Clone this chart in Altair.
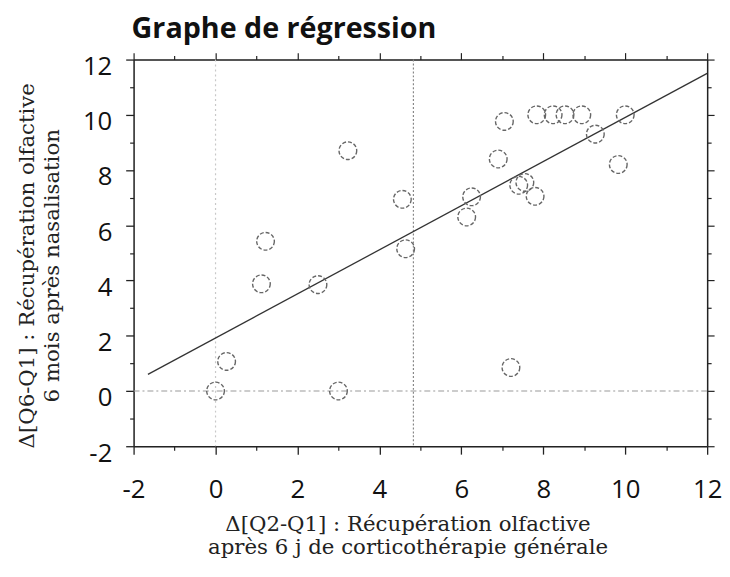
import altair as alt
import pandas as pd

# data
pts_x = [0.0, 0.27, 1.12, 1.22, 2.5, 3.0, 3.23, 4.56, 4.64, 6.13, 6.25, 6.9, 7.05,
         7.21, 7.4, 7.55, 7.8, 7.84, 8.24, 8.53, 8.94, 10.0, 9.27, 9.83]
pts_y = [0.0, 1.07, 3.88, 5.42, 3.85, 0.0, 8.7, 6.94, 5.15, 6.3, 7.03, 8.4, 9.76,
         0.85, 7.45, 7.55, 7.05, 10.0, 10.0, 10.0, 10.0, 10.0, 9.3, 8.2]
fit_x = [-1.65, 12.0]
fit_y = [0.6, 11.5]
vline_faint = [0.0]
vline_mean = [4.83]
hline_zero = [0.0]
major_ticks = [-2, 0, 2, 4, 6, 8, 10, 12]
minor_ticks = [-1, 1, 3, 5, 7, 9, 11]

title_txt = ["Graphe de régression"]
x_title = ["Δ[Q2-Q1] : Récupération  olfactive", "après 6 j de corticothérapie générale"]
y_title = ["Δ[Q6-Q1] : Récupération olfactive", "6 mois après nasalisation"]

pts = pd.DataFrame({"x": pts_x, "y": pts_y})
fit = pd.DataFrame({"x": fit_x, "y": fit_y})

xs = alt.Scale(domain=[-2, 12], nice=False, zero=False)
ys = alt.Scale(domain=[-2, 12], nice=False, zero=False)

LBL = "Open Sans"
SERIF = "DejaVu Serif"

x_main = alt.Axis(orient="bottom", values=major_ticks, tickSize=8, labelPadding=44,
                  labelBaseline="alphabetic", labelFont=LBL, labelFontSize=26,
                  labelColor="#111", grid=False, domainColor="#222", domainWidth=1.5,
                  tickColor="#222", tickWidth=1.3, title=x_title, titleFont=SERIF,
                  titleFontSize=21.5, titleFontWeight="normal", titleColor="#222",
                  titleLineHeight=23, titleX=277, titleY=85, titleAlign="center",
                  titleBaseline="alphabetic", labelFlush=False,
                  labelExpr="'' + datum.value")
y_main = alt.Axis(orient="left", values=major_ticks, tickSize=8, labelPadding=14,
                  labelBaseline="middle", labelOffset=7, labelFont=LBL, labelFontSize=26,
                  labelColor="#111", grid=False, domainColor="#222", domainWidth=1.5,
                  tickColor="#222", tickWidth=1.3, title=y_title, titleFont=SERIF,
                  titleFontSize=21.5, titleFontWeight="normal", titleColor="#222",
                  titleLineHeight=25, titleX=-101, titleY=208, titleAngle=270,
                  titleAlign="center", titleBaseline="alphabetic", labelFlush=False,
                  labelExpr="'' + datum.value")


def tick_axis(orient, vals, size):
    return alt.Axis(orient=orient, values=vals, tickSize=size, labels=False, title=None,
                    grid=False, domain=orient in ("top", "right") and size > 5,
                    domainColor="#222", domainWidth=1.5, tickColor="#222", tickWidth=1.2)


def hidden(ax_x, ax_y):
    return alt.Chart(pts).mark_point(opacity=0).encode(
        x=alt.X("x:Q", scale=xs, axis=ax_x),
        y=alt.Y("y:Q", scale=ys, axis=ax_y),
    )


v_faint = alt.Chart(pd.DataFrame({"x": vline_faint})).mark_rule(
    color="#c8c8c8", strokeDash=[2, 3], strokeWidth=1.2
).encode(x=alt.X("x:Q", scale=xs, axis=None))

v_mean = alt.Chart(pd.DataFrame({"x": vline_mean})).mark_rule(
    color="#888", strokeDash=[2, 2], strokeWidth=1.2
).encode(x=alt.X("x:Q", scale=xs, axis=None))

h_zero = alt.Chart(pd.DataFrame({"y": hline_zero})).mark_rule(
    color="#999", strokeDash=[6, 3, 2, 3], strokeWidth=1.2
).encode(y=alt.Y("y:Q", scale=ys, axis=None))

fit_line = alt.Chart(fit).mark_line(color="#333", strokeWidth=1.3).encode(
    x=alt.X("x:Q", scale=xs, axis=None),
    y=alt.Y("y:Q", scale=ys, axis=None),
)

points = alt.Chart(pts).mark_point(
    shape="circle", size=320, filled=False, color="#666", strokeWidth=1.4,
    strokeDash=[4, 2], opacity=1
).encode(
    x=alt.X("x:Q", scale=xs, axis=x_main),
    y=alt.Y("y:Q", scale=ys, axis=y_main),
)

title_mark = alt.Chart(pd.DataFrame({"t": title_txt})).mark_text(
    align="left", baseline="alphabetic", font=LBL, fontSize=29, fontWeight="bold",
    color="#111"
).encode(text="t:N", x=alt.value(-2), y=alt.value(-22))

minor_bl = hidden(tick_axis("bottom", minor_ticks, 4), tick_axis("left", minor_ticks, 4))
major_tr = hidden(tick_axis("top", major_ticks, 7), tick_axis("right", major_ticks, 7))
minor_tr = hidden(tick_axis("top", minor_ticks, 4), tick_axis("right", minor_ticks, 4))

chart = alt.layer(
    v_faint, v_mean, h_zero, fit_line, points, minor_bl, major_tr, minor_tr, title_mark
).resolve_axis(x="independent", y="independent").properties(
    width=580, height=391,
    autosize=alt.AutoSizeParams(type="none"),
    padding={"left": 127, "top": 49, "right": 15, "bottom": 121},
).configure_view(stroke=None).configure(background="white")

chart.save("out.html", embed_options={"renderer": "svg", "actions": False})
